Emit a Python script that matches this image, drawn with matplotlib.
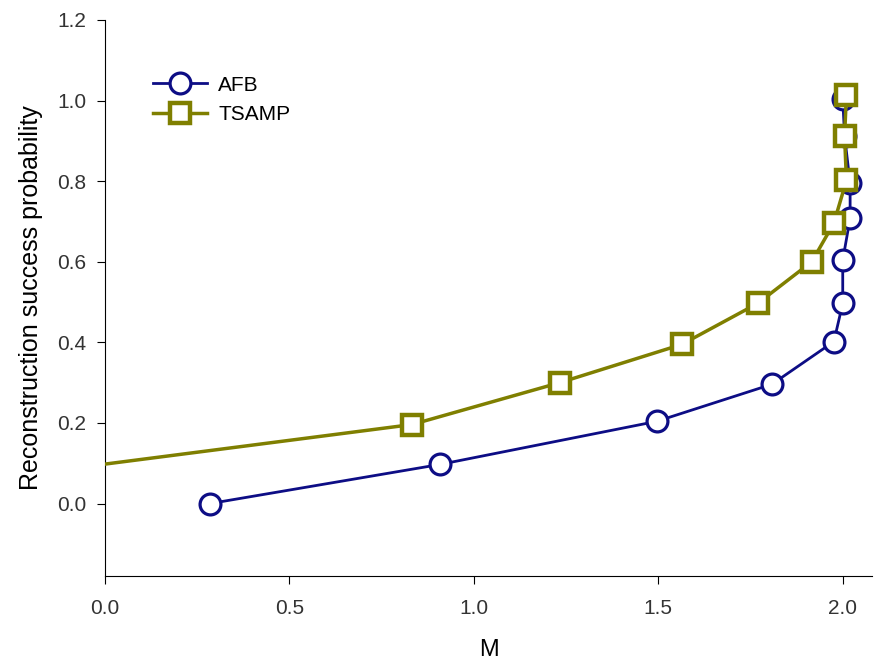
import matplotlib
matplotlib.use("Agg")
import matplotlib.pyplot as plt

afb_m = [0.285, 0.908, 1.496, 1.808, 1.976, 2.0, 2.0, 2.02, 2.02, 2.005, 2.0]
afb_p = [0.0, 0.097, 0.204, 0.296, 0.402, 0.497, 0.604, 0.708, 0.795, 0.912, 1.004]

tsamp_m = [-0.83, 0.832, 1.233, 1.564, 1.77, 1.916, 1.976, 2.01, 2.005, 2.01]
tsamp_p = [0.0, 0.196, 0.30, 0.395, 0.497, 0.60, 0.696, 0.802, 0.912, 1.014]

plt.rcParams['font.family'] = ['Liberation Sans', 'DejaVu Sans']

fig = plt.figure(figsize=(8.74, 6.66), dpi=100)
ax = fig.add_axes([0.12, 0.135, 0.878, 0.835])

navy = '#0d0d85'
olive = '#7f7f00'
ax.plot(afb_m, afb_p, '-o', color=navy, lw=2, markersize=15, mfc='white',
        mec=navy, mew=2.3, label='AFB', zorder=3)
ax.plot(tsamp_m, tsamp_p, '-s', color=olive, lw=2.5, markersize=14, mfc='white',
        mec=olive, mew=3.2, label='TSAMP', zorder=4)

ax.set_xlim(0, 2.08)
ax.set_ylim(-0.18, 1.2)
ax.set_xticks([0.0, 0.5, 1.0, 1.5, 2.0])
ax.set_yticks([0.0, 0.2, 0.4, 0.6, 0.8, 1.0, 1.2])
ax.xaxis.set_major_formatter(matplotlib.ticker.FormatStrFormatter('%.1f'))
ax.yaxis.set_major_formatter(matplotlib.ticker.FormatStrFormatter('%.1f'))
for s in ['top', 'right']:
    ax.spines[s].set_visible(False)
ax.tick_params(direction='out', length=5.5, labelsize=15, colors='black',
               labelcolor='#333333')
ax.tick_params(axis='y', pad=8)
ax.tick_params(axis='x', pad=11)
ax.set_xlabel('M', fontsize=17, labelpad=15)
ax.set_ylabel('Reconstruction success probability', fontsize=18, labelpad=10)

ax.legend(loc='upper left', bbox_to_anchor=(0.052, 0.915), frameon=False,
          fontsize=15, handlelength=2.6, handletextpad=0.53, labelspacing=0.52,
          borderaxespad=0)

fig.savefig('out.png', dpi=100)
